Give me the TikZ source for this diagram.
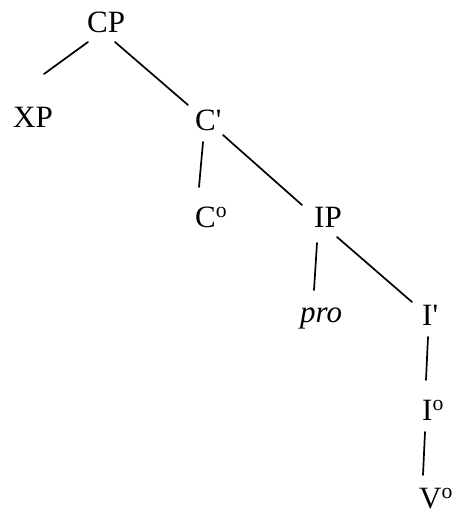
\documentclass[tikz,border=0pt]{standalone}
\usepackage{fontspec}
\setmainfont{Liberation Serif}
\usetikzlibrary{calc}
\begin{document}
\begin{tikzpicture}[x=1pt,y=1pt,
  lbl/.style={anchor=base west,inner sep=0pt,font=\fontsize{31}{37}\selectfont},
  edge/.style={line width=1.7pt,line cap=round}]
\useasboundingbox (0,0) rectangle (455,-516);
\node[lbl] (CP)  at (87,-33)  {CP};
\node[lbl] (XP)  at (13,-128) {XP};
\node[lbl] (C1)  at (195,-131) {C\textquotesingle};
\node[lbl] (C0)  at (195,-227) {C\textsuperscript{o}};
\node[lbl] (IP)  at (314,-227) {IP};
\node[lbl] (pro) at (300,-322) {\itshape pro};
\node[lbl] (I1)  at (422,-325) {I\textquotesingle};
\node[lbl] (I0)  at (422,-420) {I\textsuperscript{o}};
\node[lbl] (V0)  at (419,-508) {V\textsuperscript{o}};
\draw[edge] ($(CP.base west)+(1,-9)$)  -- ($(XP.base west)+(31,54)$);
\draw[edge] ($(CP.base west)+(28,-9)$) -- ($(C1.base west)+(-7,26)$);
\draw[edge] ($(C1.base west)+(8,-11)$) -- ($(C0.base west)+(4,40)$);
\draw[edge] ($(C1.base west)+(28,-4)$) -- ($(IP.base west)+(-12,22)$);
\draw[edge] ($(IP.base west)+(3,-16)$) -- ($(pro.base west)+(14,32)$);
\draw[edge] ($(IP.base west)+(23,-10)$) -- ($(I1.base west)+(-10,23)$);
\draw[edge] ($(I1.base west)+(6,-12)$) -- ($(I0.base west)+(4,40)$);
\draw[edge] ($(I0.base west)+(3,-12)$) -- ($(V0.base west)+(4,33)$);
\end{tikzpicture}
\end{document}
